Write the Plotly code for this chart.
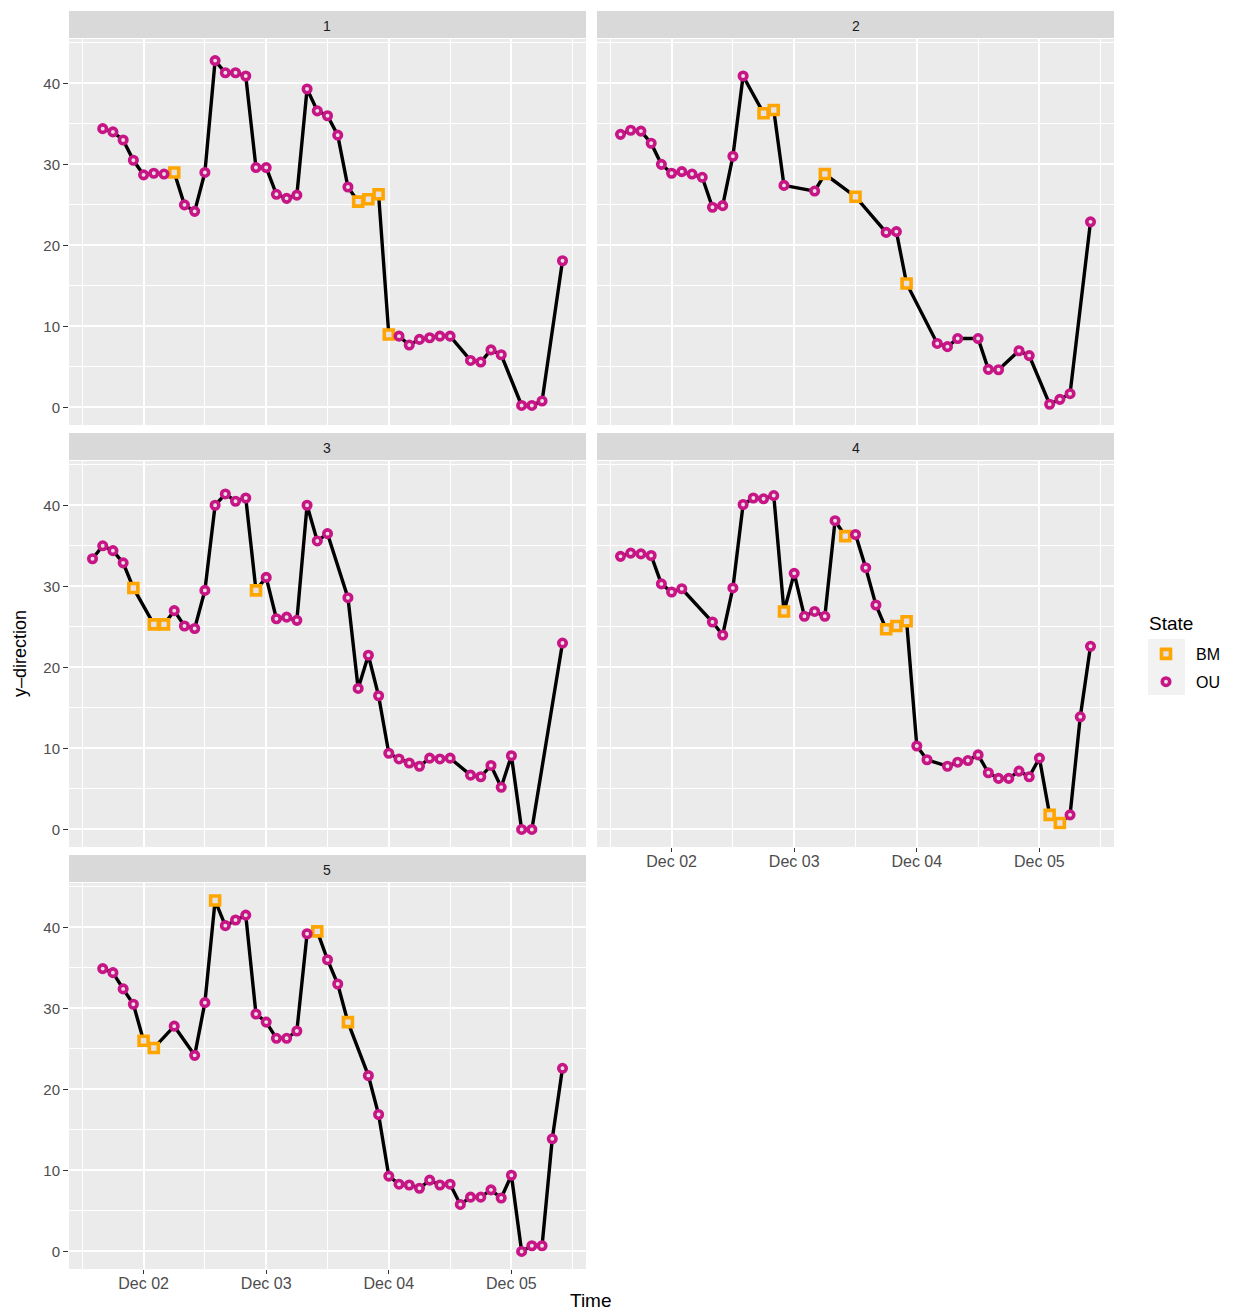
import pandas as pd
import plotly.graph_objects as go

W, H = 1236, 1311
FONT = "Liberation Sans, Arial, Helvetica, sans-serif"

# Two-hourly time grid shared by all tracks
times = pd.date_range("2020-12-01 14:00", "2020-12-05 10:00", freq="2h")

# y-direction per track (None = no observation at that time)
y_1 = [None, 34.4, 34.0, 33.0, 30.5, 28.7, 28.9, 28.8, 29.0, 25.0, 24.2, 29.0, 42.8, 41.3,
       41.3, 40.9, 29.6, 29.6, 26.3, 25.8, 26.2, 39.3, 36.6, 36.0, 33.6, 27.2, 25.4, 25.7,
       26.3, 9.0, 8.8, 7.7, 8.4, 8.6, 8.8, 8.8, None, 5.8, 5.6, 7.1, 6.5, None, 0.25, 0.25,
       0.8, None, 18.1]
y_2 = [33.7, 34.2, 34.1, 32.6, 30.0, 28.9, 29.1, 28.8, 28.4, 24.7, 24.9, 31.0, 40.9, None,
       36.3, 36.7, 27.4, None, None, 26.7, 28.8, None, None, 26.0, None, None, 21.6, 21.7,
       15.3, None, None, 7.9, 7.5, 8.5, None, 8.5, 4.7, 4.65, None, 7.0, 6.4, None, 0.4,
       1.0, 1.7, None, 22.9]
y_3 = [33.4, 35.0, 34.4, 32.9, 29.8, None, 25.3, 25.3, 27.0, 25.1, 24.8, 29.5, 40.0, 41.4,
       40.5, 40.9, 29.5, 31.1, 26.0, 26.2, 25.8, 40.0, 35.6, 36.5, None, 28.6, 17.4, 21.5,
       16.5, 9.4, 8.7, 8.2, 7.8, 8.8, 8.7, 8.8, None, 6.7, 6.5, 7.9, 5.2, 9.1, 0.0, 0.0,
       None, None, 23.0]
y_4 = [33.7, 34.1, 34.0, 33.8, 30.3, 29.3, 29.7, None, None, 25.6, 24.0, 29.8, 40.1, 40.9,
       40.8, 41.2, 26.9, 31.6, 26.3, 26.9, 26.3, 38.1, 36.2, 36.4, 32.3, 27.7, 24.7, 25.1,
       25.7, 10.3, 8.6, None, 7.8, 8.3, 8.5, 9.2, 7.0, 6.3, 6.3, 7.2, 6.5, 8.8, 1.8, 0.8,
       1.8, 13.9, 22.6]
y_5 = [None, 34.9, 34.4, 32.4, 30.5, 26.0, 25.1, None, 27.8, None, 24.2, 30.7, 43.3, 40.2,
       40.9, 41.5, 29.3, 28.3, 26.3, 26.3, 27.2, 39.2, 39.5, 36.0, 33.0, 28.3, None, 21.7,
       16.9, 9.3, 8.3, 8.2, 7.8, 8.8, 8.2, 8.3, 5.8, 6.7, 6.7, 7.6, 6.6, 9.4, 0.0, 0.7,
       0.7, 13.9, 22.6]

# Behavioural state per time step: B = BM, O = OU, - = missing
state_1 = "-OOOOOOOBOOOOOOOOOOOOOOOOOBBBBOOOOOO-OOOO-OOO-O"
state_2 = "OOOOOOOOOOOOO-BBO--OB--B--OOB--OOO-OOO-OO-OOO-O"
state_3 = "OOOOB-BBOOOOOOOOBOOOOOOO-OOOOOOOOOOO-OOOOOOO--O"
state_4 = "OOOOOOO--OOOOOOOBOOOOOBOOOBBBOO-OOOOOOOOOOBBOOO"
state_5 = "-OOOOBB-O-OOBOOOOOOOOOBOOB-OOOOOOOOOOOOOOOOOOOO"

tracks = [("1", y_1, state_1), ("2", y_2, state_2), ("3", y_3, state_3),
          ("4", y_4, state_4), ("5", y_5, state_5)]
state_names = {"B": "BM", "O": "OU"}
state_style = {"BM": dict(symbol="square", color="#FFA500", size=9),
               "OU": dict(symbol="circle", color="#C71585", size=7.5)}

x_major = pd.to_datetime(["2020-12-02", "2020-12-03", "2020-12-04", "2020-12-05"])
x_minor = pd.to_datetime(["2020-12-01 12:00", "2020-12-02 12:00", "2020-12-03 12:00",
                          "2020-12-04 12:00", "2020-12-05 12:00"])
y_major = [0, 10, 20, 30, 40]
y_minor = [5, 15, 25, 35, 45]

# panel geometry in pixels
col_x = [(69, 586), (597, 1114)]
row_y = [(39, 425), (461, 847), (883, 1269)]

# shared scales with 5% expansion
all_vals = [v for _, ys, _ in tracks for v in ys if v is not None]
ylo, yhi = min(all_vals), max(all_vals)
ypad = 0.05 * (yhi - ylo)
tlo, thi = times[0], times[-1]
tpad = 0.05 * (thi - tlo)

fig = go.Figure()
layout = {}
shapes = []
annotations = []
shown = set()

for k, (label, ys, codes) in enumerate(tracks, start=1):
    r, c = divmod(k - 1, 2)
    xa, ya = ("x", "y") if k == 1 else (f"x{k}", f"y{k}")
    keep = [i for i, v in enumerate(ys) if v is not None]
    t = [times[i] for i in keep]
    v = [ys[i] for i in keep]
    s = [state_names[codes[i]] for i in keep]

    fig.add_trace(go.Scatter(x=t, y=v, mode="lines", xaxis=xa, yaxis=ya,
                             line=dict(color="black", width=3.4),
                             showlegend=False, hoverinfo="skip"))
    for st in ["BM", "OU"]:
        idx = [i for i in range(len(t)) if s[i] == st]
        if not idx:
            continue
        sty = state_style[st]
        fig.add_trace(go.Scatter(
            x=[t[i] for i in idx], y=[v[i] for i in idx], mode="markers",
            xaxis=xa, yaxis=ya, name=st, legendgroup=st,
            legendrank=1 if st == "BM" else 2,
            showlegend=st not in shown,
            marker=dict(symbol=sty["symbol"], size=sty["size"], color="#E6E1E4",
                        line=dict(color=sty["color"], width=3.6))))
        shown.add(st)

    x0, x1 = col_x[c]
    y0, y1 = row_y[r]
    show_x = k in (4, 5)
    show_y = c == 0
    key = "" if k == 1 else str(k)
    layout[f"xaxis{key}"] = dict(
        domain=[x0 / W, x1 / W], anchor=ya, type="date",
        range=[tlo - tpad, thi + tpad], tickvals=x_major, tickformat="%b %d",
        showticklabels=show_x, ticks="outside" if show_x else "", ticklen=4,
        tickwidth=1.1, tickcolor="#333333", ticklabelstandoff=-4,
        tickfont=dict(family=FONT, size=16, color="#4D4D4D"),
        showgrid=True, gridcolor="white", gridwidth=1.5, zeroline=False, showline=False,
        minor=dict(tickvals=x_minor, showgrid=True, gridcolor="white", gridwidth=0.8, ticks=""),
        fixedrange=True)
    layout[f"yaxis{key}"] = dict(
        domain=[1 - y1 / H, 1 - y0 / H], anchor=xa,
        range=[ylo - ypad, yhi + ypad], tickvals=y_major,
        showticklabels=show_y, ticks="outside" if show_y else "", ticklen=5,
        tickwidth=1.1, tickcolor="#333333",
        tickfont=dict(family=FONT, size=15, color="#4D4D4D"),
        showgrid=True, gridcolor="white", gridwidth=1.5, zeroline=False, showline=False,
        minor=dict(tickvals=y_minor, showgrid=True, gridcolor="white", gridwidth=0.8, ticks=""),
        fixedrange=True)

    # facet strip
    shapes.append(dict(type="rect", xref="paper", yref="paper",
                       x0=x0 / W, x1=x1 / W, y0=1 - (y0 - 1) / H, y1=1 - (y0 - 28) / H,
                       fillcolor="#D9D9D9", line=dict(width=0), layer="below"))
    annotations.append(dict(text=label, xref="paper", yref="paper",
                            x=(x0 + x1) / 2 / W, y=1 - (y0 - 13) / H,
                            showarrow=False, xanchor="center", yanchor="middle",
                            font=dict(family=FONT, size=14, color="#1A1A1A")))

# legend key background and title
shapes.append(dict(type="rect", xref="paper", yref="paper",
                   x0=1148 / W, x1=1185 / W, y0=1 - 695 / H, y1=1 - 639 / H,
                   fillcolor="#F2F2F2", line=dict(width=0), layer="below"))
annotations.append(dict(text="State", xref="paper", yref="paper", x=1147 / W, y=1 - 623 / H,
                        showarrow=False, xanchor="left", yanchor="middle",
                        font=dict(family=FONT, size=19, color="black")))

annotations.append(dict(text="Time", xref="paper", yref="paper", x=591 / W, y=1 - 1300 / H,
                        showarrow=False, xanchor="center", yanchor="middle",
                        font=dict(family=FONT, size=19, color="black")))
annotations.append(dict(text="y\u2013direction", xref="paper", yref="paper",
                        x=20 / W, y=1 - 654 / H, textangle=-90,
                        showarrow=False, xanchor="center", yanchor="middle",
                        font=dict(family=FONT, size=18, color="black")))

fig.update_layout(
    width=W, height=H, margin=dict(l=0, r=0, t=0, b=0),
    paper_bgcolor="white", plot_bgcolor="#EBEBEB",
    font=dict(family=FONT),
    shapes=shapes, annotations=annotations,
    legend=dict(x=1136 / W, y=1 - 637 / H, xanchor="left", yanchor="top",
                bgcolor="rgba(0,0,0,0)", tracegroupgap=4, itemwidth=50,
                font=dict(family=FONT, size=16, color="black")),
    **layout)

fig.write_html("out.html")
